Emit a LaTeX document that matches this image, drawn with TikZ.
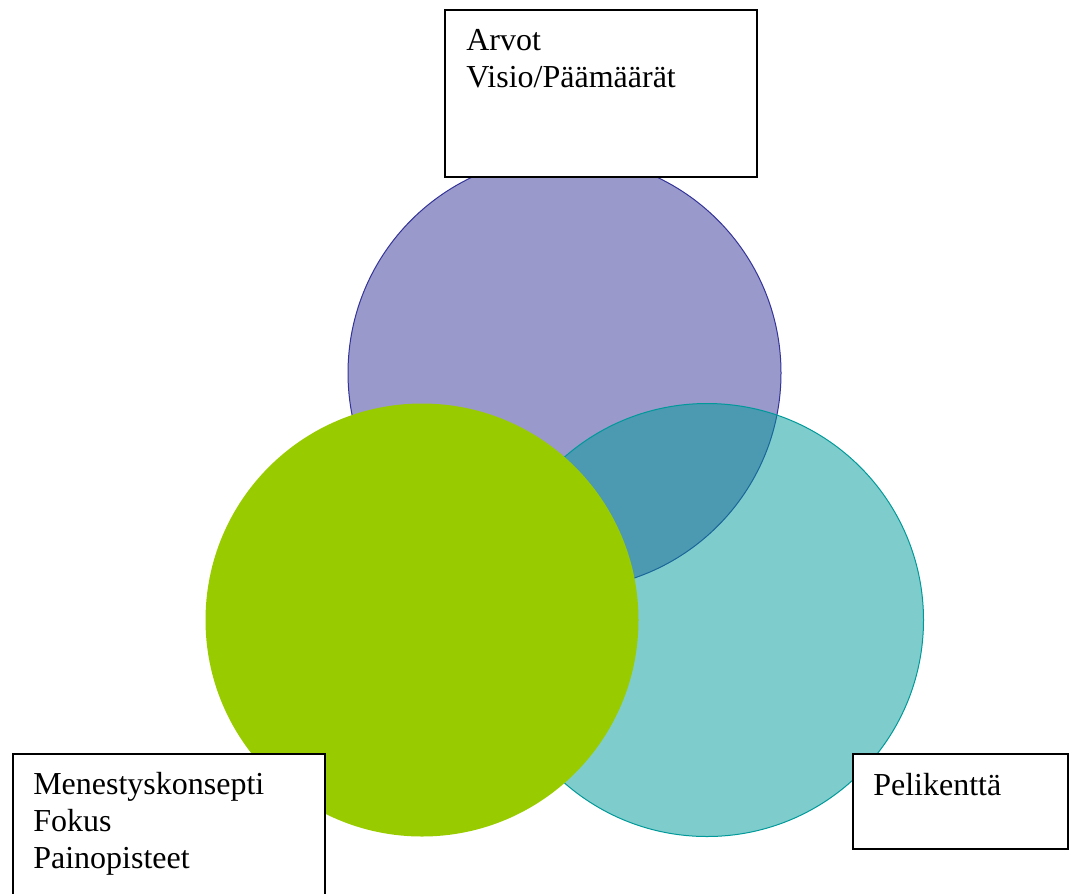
\documentclass[tikz,border=0pt]{standalone}
\usepackage{fontspec}
\setmainfont{Liberation Serif}
\definecolor{navy}{HTML}{333399}
\definecolor{teal}{HTML}{009999}
\definecolor{lime}{HTML}{99CC00}
\begin{document}
\begin{tikzpicture}[x=0.75pt,y=-0.75pt,
  label/.style={draw=black,line width=1.5pt,fill=white},
  caption/.style={anchor=base west,align=left,font=\fontsize{24}{27.75}\selectfont,inner sep=0pt}]
\useasboundingbox (0,0) rectangle (1069,893);
% three overlapping circles
\filldraw[draw=navy,fill=navy,fill opacity=0.5,line width=0.75pt] (564.5,373) circle[radius=216.5];
\filldraw[draw=teal,fill=teal,fill opacity=0.5,line width=0.75pt] (707,620) circle[radius=216.5];
\fill[lime] (422,620) circle[radius=216.5];
% label boxes
\draw[label] (445,10) rectangle (757,177);
\draw[label] (13,754) rectangle (325,905);
\draw[label] (853,754) rectangle (1067.5,849);
% texts (anchored at the baseline of their last line)
\node[caption] (t1) at (466,87) {Arvot\\Visio/Päämäärät};
\node[caption] (t2) at (33,868) {Menestyskonsepti\\Fokus\\Painopisteet};
\node[caption] (t3) at (873,795) {Pelikenttä};
\end{tikzpicture}
\end{document}
